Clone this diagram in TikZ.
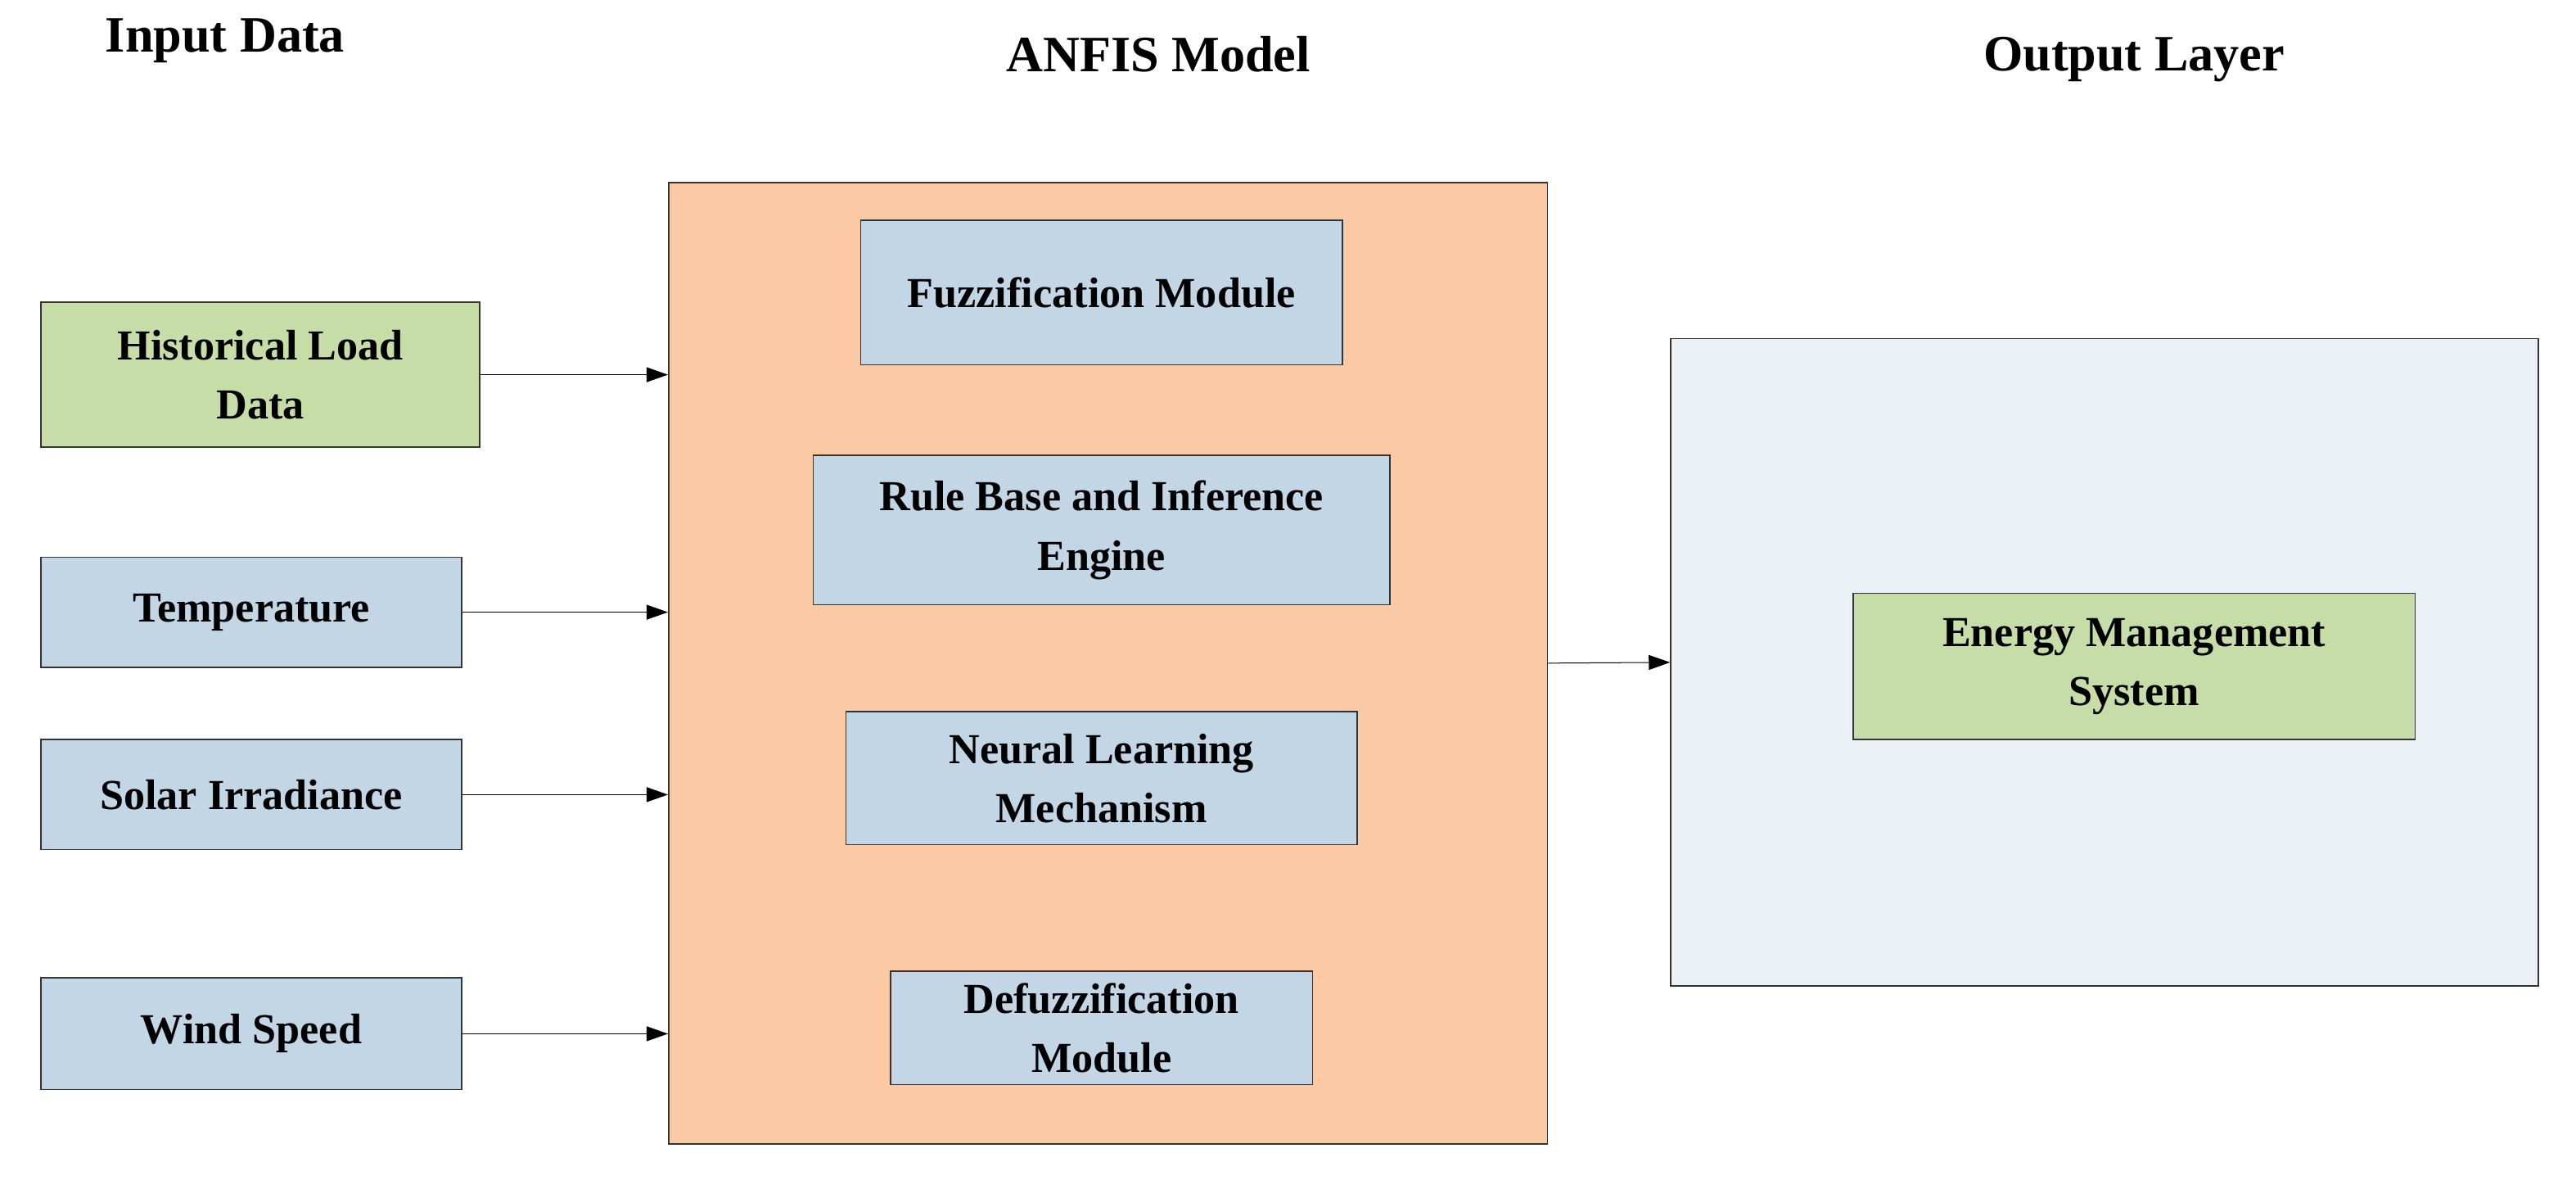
\documentclass[tikz,border=0pt]{standalone}
\usepackage{fontspec}
\setmainfont{Liberation Serif}
\usetikzlibrary{arrows.meta}
\definecolor{bl}{HTML}{C3D6E6}
\definecolor{gr}{HTML}{C6DDA8}
\definecolor{or}{HTML}{FBCAA5}
\definecolor{lg}{HTML}{ECF1F6}
\begin{document}
\begin{tikzpicture}[x=1pt,y=-1pt,
 box/.style={draw=black!80,line width=0.8pt,inner sep=0pt,align=center,font=\fontsize{26}{36}\selectfont\bfseries},
 ttl/.style={font=\fontsize{31}{36}\selectfont\bfseries},
 arr/.style={-{Triangle[length=13pt,width=9pt]},line width=0.5pt}]
\useasboundingbox (0,0) rectangle (1568,717.5);
\node[box,fill=or,minimum width=535,minimum height=585] (anfis) at (674.5,403.5) {};
\node[box,fill=lg,minimum width=528,minimum height=394] (out) at (1281,403) {};
\node[box,fill=gr,minimum width=267,minimum height=88] (hist) at (158.5,228) {Historical Load\\Data};
\node[box,fill=bl,minimum width=256,minimum height=67] (temp) at (153,372.5) {Temperature};
\node[box,fill=bl,minimum width=256,minimum height=67] (solar) at (153,483.5) {Solar Irradiance};
\node[box,fill=bl,minimum width=256,minimum height=68] (wind) at (153,629) {Wind Speed};
\node[box,fill=bl,minimum width=293,minimum height=88] (fuzz) at (670.5,178) {Fuzzification Module};
\node[box,fill=bl,minimum width=351,minimum height=91] (rule) at (670.5,322.5) {Rule Base and Inference\\Engine};
\node[box,fill=bl,minimum width=311,minimum height=81] (neur) at (670.5,473.5) {Neural Learning\\Mechanism};
\node[box,fill=bl,minimum width=257,minimum height=69] (defz) at (670.5,625.5) {Defuzzification\\Module};
\node[box,fill=gr,minimum width=342,minimum height=89] (ems) at (1299,405.5) {Energy Management\\System};
\node[ttl] (t1) at (137,25) {Input Data};
\node[ttl] (t2) at (705,33) {ANFIS Model};
\node[ttl] (t3) at (1299,36) {Output Layer};
\foreach \n in {hist,temp,solar,wind}
  \draw[arr] (\n.east) -- (\n.east -| anfis.west);
\draw[arr] (anfis.east) -- (out.west);
\end{tikzpicture}
\end{document}
